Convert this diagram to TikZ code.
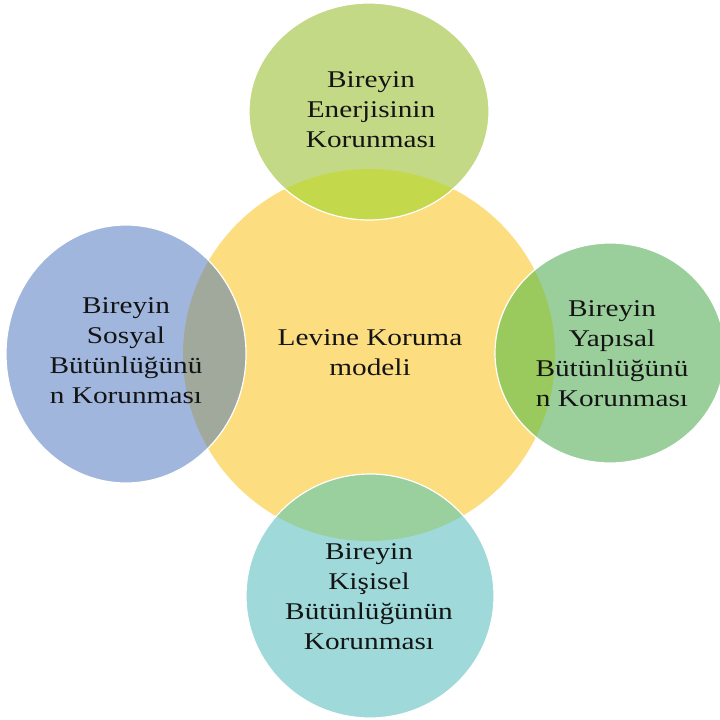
\documentclass[tikz,border=0pt]{standalone}
\usepackage{fontspec}
\newfontfamily\venfont[FakeStretch=1.22]{Liberation Serif}
\definecolor{cYel}{HTML}{FCDD80}
\definecolor{cTop}{HTML}{C4D986}
\definecolor{cTopO}{HTML}{C4D84C}
\definecolor{cLeft}{HTML}{A1B6DD}
\definecolor{cLeftO}{HTML}{A1A89C}
\definecolor{cRight}{HTML}{9ACF9C}
\definecolor{cRightO}{HTML}{9AC95E}
\definecolor{cBot}{HTML}{A0D9D9}
\definecolor{cBotO}{HTML}{9ACF9E}
\tikzset{
  lbl/.style={align=center, text=black!92, inner sep=0pt,
    font=\venfont\fontsize{24}{30}\selectfont},
  rim/.style={draw=white, line width=1.2pt}
}
\begin{document}
\begin{tikzpicture}[x=1pt,y=-1pt]
\useasboundingbox (0,0) rectangle (720,720);
\clip (0,0) rectangle (720,720);
% centre circle
\fill[cYel] (369,355) circle[radius=186pt];
% outer circles
\fill[cTop] (369,111.5) ellipse[x radius=120pt, y radius=108.5pt];
\fill[cLeft] (126,354) ellipse[x radius=120pt, y radius=129pt];
\fill[cRight] (610,353) ellipse[x radius=115pt, y radius=110pt];
\fill[cBot] (370,596) ellipse[x radius=124pt, y radius=122pt];
% overlaps
\begin{scope}
  \clip (369,355) circle[radius=186pt];
  \fill[cTopO] (369,111.5) ellipse[x radius=120pt, y radius=108.5pt];
  \fill[cLeftO] (126,354) ellipse[x radius=120pt, y radius=129pt];
  \fill[cRightO] (610,353) ellipse[x radius=115pt, y radius=110pt];
  \fill[cBotO] (370,596) ellipse[x radius=124pt, y radius=122pt];
\end{scope}
% white rims
\draw[rim] (369,111.5) ellipse[x radius=120pt, y radius=108.5pt];
\draw[rim] (126,354) ellipse[x radius=120pt, y radius=129pt];
\draw[rim] (610,353) ellipse[x radius=115pt, y radius=110pt];
\draw[rim] (370,596) ellipse[x radius=124pt, y radius=122pt];
% labels
\node[lbl] (center) at (370,352.5) {Levine Koruma\\modeli};
\node[lbl] (top) at (371,110) {Bireyin\\Enerjisinin\\Korunması};
\node[lbl] (left) at (126,350.5) {Bireyin\\Sosyal\\Bütünlüğünü\\n Korunması};
\node[lbl] (right) at (612,354) {Bireyin\\Yapısal\\Bütünlüğünü\\n Korunması};
\node[lbl] (bottom) at (369,596.5) {Bireyin\\Kişisel\\Bütünlüğünün\\Korunması};
\end{tikzpicture}
\end{document}
